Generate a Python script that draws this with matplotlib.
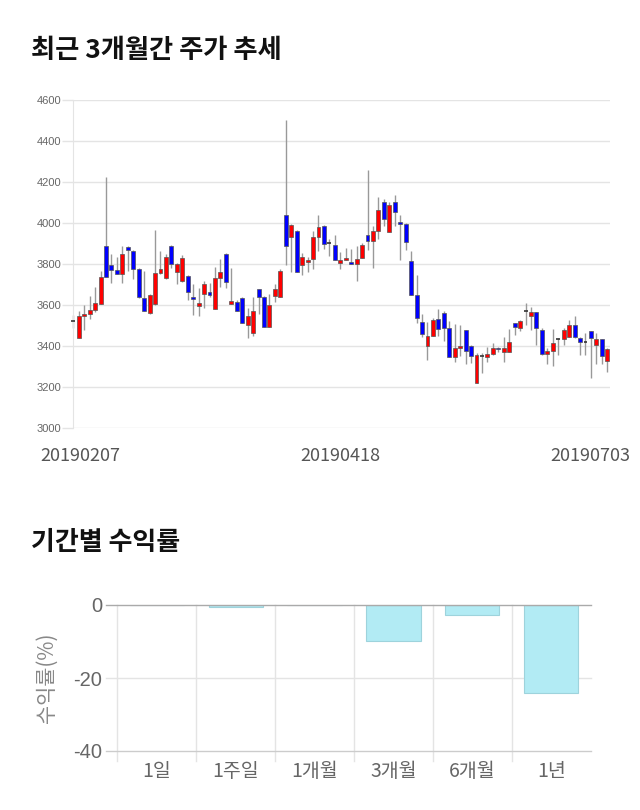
import matplotlib
matplotlib.use("Agg")
import matplotlib.pyplot as plt
import matplotlib.transforms as mtransforms
import numpy as np

plt.rcParams['font.family'] = ['Noto Sans CJK KR', 'DejaVu Sans']

# ---------------- data ----------------
opens = [3520, 3440, 3545, 3555, 3575, 3605, 3890, 3795, 3770, 3750,
         3885, 3865, 3775, 3635, 3560, 3605, 3755, 3730, 3890, 3760,
         3715, 3740, 3640, 3595, 3655, 3665, 3580, 3730, 3850, 3607,
         3615, 3635, 3500, 3465, 3680, 3640, 3495, 3645, 3640, 4040,
         3930, 3960, 3795, 3810, 3825, 3930, 3985, 3900, 3895, 3807,
         3820, 3810, 3800, 3830, 3940, 3910, 3960, 4100, 3955, 4100,
         4003, 3995, 3815, 3650, 3515, 3400, 3450, 3530, 3560, 3490,
         3345, 3390, 3480, 3400, 3220, 3350, 3348, 3360, 3392, 3370,
         3370, 3510, 3490, 3570, 3548, 3565, 3480, 3360, 3375, 3433,
         3433, 3445, 3502, 3441, 3421, 3473, 3405, 3433, 3328]
highs = [3550, 3570, 3600, 3645, 3690, 3765, 4225, 3850, 3835, 3890,
         3890, 3870, 3780, 3765, 3655, 3965, 3865, 3850, 3895, 3805,
         3845, 3745, 3700, 3685, 3715, 3705, 3785, 3825, 3855, 3780,
         3625, 3640, 3585, 3640, 3680, 3645, 3655, 3700, 3775, 4500,
         3995, 3965, 3855, 3835, 3960, 4040, 3990, 3920, 3940, 3860,
         3880, 3875, 3890, 3900, 4260, 3985, 4125, 4115, 4100, 4135,
         4040, 4000, 3865, 3745, 3555, 3515, 3535, 3580, 3570, 3520,
         3505, 3500, 3480, 3405, 3365, 3365, 3395, 3415, 3397, 3445,
         3485, 3512, 3525, 3610, 3590, 3568, 3490, 3390, 3485, 3437,
         3486, 3525, 3545, 3445, 3465, 3475, 3465, 3435, 3390]
lows = [3490, 3440, 3480, 3530, 3565, 3605, 3735, 3705, 3750, 3705,
        3765, 3725, 3635, 3570, 3555, 3600, 3750, 3725, 3780, 3700,
        3710, 3625, 3550, 3545, 3585, 3640, 3580, 3690, 3685, 3605,
        3570, 3510, 3440, 3450, 3555, 3495, 3495, 3615, 3640, 3795,
        3760, 3760, 3745, 3760, 3775, 3865, 3875, 3840, 3820, 3775,
        3820, 3800, 3715, 3830, 3870, 3780, 3920, 3985, 3955, 3985,
        3820, 3870, 3650, 3510, 3445, 3330, 3450, 3450, 3425, 3345,
        3320, 3350, 3310, 3315, 3220, 3270, 3320, 3355, 3372, 3320,
        3370, 3455, 3475, 3500, 3478, 3405, 3355, 3310, 3300, 3356,
        3405, 3445, 3440, 3355, 3355, 3242, 3310, 3312, 3275]
closes = [3520, 3545, 3555, 3575, 3610, 3735, 3735, 3770, 3750, 3850,
          3870, 3775, 3640, 3570, 3650, 3755, 3775, 3835, 3800, 3800,
          3830, 3665, 3630, 3610, 3700, 3650, 3730, 3760, 3710, 3620,
          3570, 3510, 3545, 3570, 3640, 3495, 3600, 3680, 3765, 3890,
          3990, 3760, 3835, 3820, 3930, 3980, 3900, 3900, 3820, 3820,
          3830, 3800, 3825, 3895, 3910, 3960, 4065, 4020, 4090, 4055,
          3997, 3905, 3650, 3535, 3460, 3450, 3525, 3485, 3490, 3345,
          3390, 3400, 3375, 3350, 3355, 3350, 3360, 3390, 3384, 3390,
          3420, 3495, 3520, 3570, 3564, 3490, 3360, 3375, 3415, 3433,
          3478, 3502, 3445, 3421, 3421, 3441, 3433, 3351, 3385]
date_labels = ['20190207', '20190418', '20190703']
date_label_idx = [0, 49, 98]
price_ticks = [3000, 3200, 3400, 3600, 3800, 4000, 4200, 4400, 4600]

periods = ['1일', '1주일', '1개월', '3개월', '6개월', '1년']
returns = [0.0, -0.6, 0.0, -9.8, -2.7, -24.0]
return_ticks = [0, -20, -40]

# ---------------- figure ----------------
W, H = 640, 810
fig = plt.figure(figsize=(W / 100, H / 100), dpi=100)
fig.patch.set_facecolor('white')

def px_rect(l, t, r, b):
    return [l / W, 1 - b / H, (r - l) / W, (b - t) / H]

# titles
fig.text(31 / W, 1 - 51 / H, '최근 3개월간 주가 추세', fontsize=18.9,
         fontweight='bold', color='#111111', va='center', ha='left')
fig.text(31 / W, 1 - 543 / H, '기간별 수익률', fontsize=18.7,
         fontweight='bold', color='#111111', va='center', ha='left')

# ---------------- candlestick chart ----------------
ax = fig.add_axes(px_rect(73.3, 100, 610, 428))
n = len(opens)
x = np.arange(n)
ax.set_xlim(0, 98.5)
ax.set_ylim(3000, 4600)
grid_c = '#e4e4e4'
ax.set_yticks(price_ticks)
ax.set_yticklabels([str(t) for t in price_ticks], fontfamily='Liberation Sans',
                   fontsize=8, color='#666666')
ax.tick_params(axis='y', length=8, width=1, color=grid_c, pad=0.5)
ax.yaxis.grid(True, color=grid_c, lw=1)
ax.set_axisbelow(True)
for s in ['top', 'right', 'bottom']:
    ax.spines[s].set_visible(False)
ax.spines['left'].set_color(grid_c)

bw = 0.72
for i in range(n):
    o, h, l, c = opens[i], highs[i], lows[i], closes[i]
    ax.vlines(x[i], l, h, color='#999999', lw=1, zorder=2, clip_on=False)
    if o == c:
        ax.hlines(o, x[i] - bw / 2, x[i] + bw / 2, color='#333333', lw=1.2,
                  zorder=3, clip_on=False)
    else:
        col = '#ff0000' if c > o else '#0000ff'
        ax.bar(x[i], abs(c - o), bottom=min(o, c), width=bw, color=col,
               edgecolor='#555555', lw=0.5, zorder=3, clip_on=False)

ax.set_xticks([x[k] for k in date_label_idx])
ax.set_xticklabels(date_labels, fontsize=13, color='#555555')
ax.tick_params(axis='x', length=0, pad=14)
offsets = [6.7, 0, -17]
for lab, dx in zip(ax.get_xticklabels(), offsets):
    lab.set_transform(lab.get_transform() +
                      mtransforms.ScaledTranslation(dx / 100, 0, fig.dpi_scale_trans))

# ---------------- returns bar chart ----------------
ax2 = fig.add_axes(px_rect(117.3, 605, 590.7, 751))
pos = np.arange(len(periods))
ax2.set_xlim(-0.5, len(periods) - 0.5)
ax2.set_ylim(-40, 0)
ax2.bar(pos, returns, width=0.686, color='#b2ebf4', edgecolor='#9ed3dc',
        lw=0.8, zorder=2)
for s in ['top', 'right', 'bottom', 'left']:
    ax2.spines[s].set_visible(False)

ext = 11 / (590.7 - 117.3)
tr_h = mtransforms.blended_transform_factory(ax2.transAxes, ax2.transData)
for val, colr in zip(return_ticks, ['#aaaaaa', '#e4e4e4', '#cccccc']):
    ax2.plot([-ext, 1], [val, val], transform=tr_h, color=colr, lw=1,
             clip_on=False, zorder=1 if val != 0 else 3)
tr_v = mtransforms.blended_transform_factory(ax2.transData, ax2.transAxes)
vext = 10 / 146
for b in np.arange(len(periods)) - 0.5:
    ax2.plot([b, b], [1, -vext], transform=tr_v, color='#e4e4e4', lw=1,
             clip_on=False, zorder=0)

ax2.set_yticks(return_ticks)
ax2.set_yticklabels([str(t) for t in return_ticks], fontfamily='Liberation Sans',
                    fontsize=14.5, color='#666666')
ax2.tick_params(axis='y', length=0, pad=11)
ax2.set_xticks(pos)
ax2.set_xticklabels(periods, fontsize=14, color='#666666')
ax2.tick_params(axis='x', length=0, pad=7)
ax2.set_ylabel('수익률(%)', fontsize=15, color='#888888')
ax2.yaxis.set_label_coords(-0.125, 0.5)

fig.savefig('out.png', dpi=100, facecolor='white')
